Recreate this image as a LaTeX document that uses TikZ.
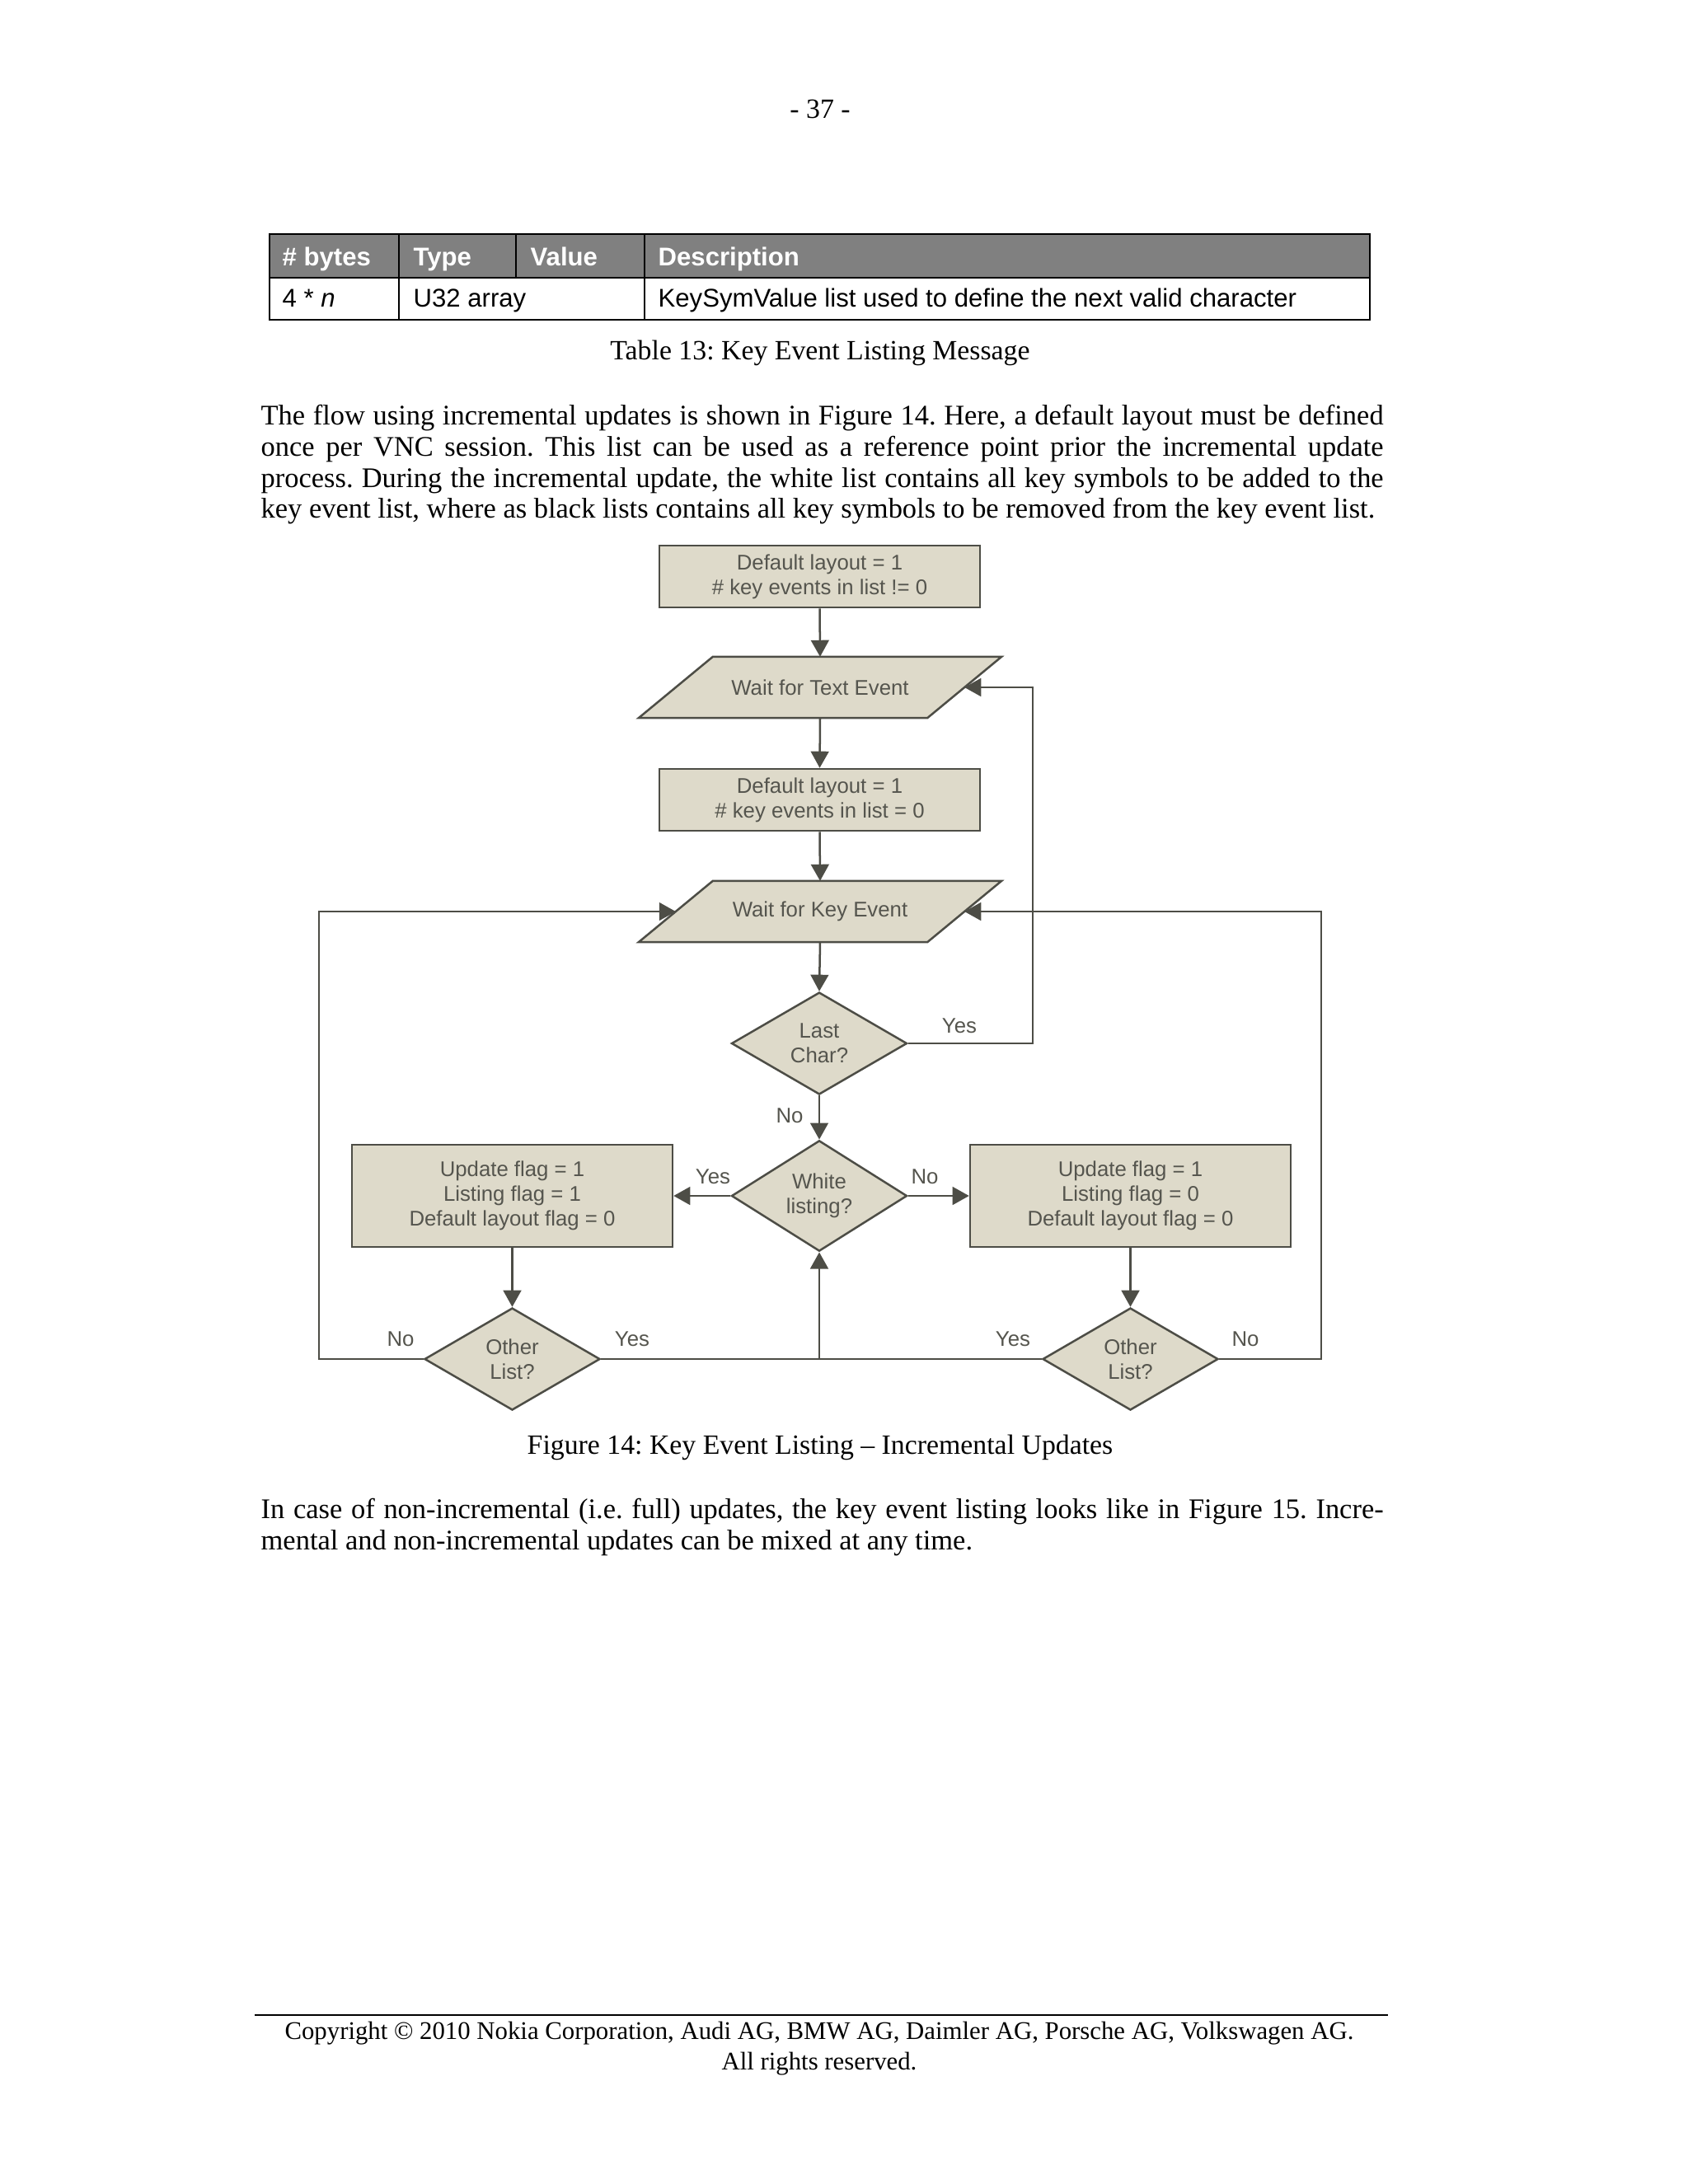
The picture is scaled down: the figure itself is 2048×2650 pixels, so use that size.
\documentclass[tikz,border=0pt]{standalone}
\usepackage{fontspec}
\setmainfont{Liberation Serif}
\newfontfamily\sansf{Liberation Sans}
\usetikzlibrary{arrows.meta,shapes.geometric,calc,backgrounds}
\frenchspacing
\definecolor{boxfill}{RGB}{222,218,202}
\definecolor{boxline}{RGB}{77,77,70}
\definecolor{boxtext}{RGB}{85,85,78}
\definecolor{hdrgray}{RGB}{128,128,128}
\def\pxu{0.29883pt}
\newlength\linew
\setlength\linew{407pt}
\newcommand{\bodyfont}{\frenchspacing\fontsize{10.3}{12}\selectfont}
\newcommand{\capfont}{\frenchspacing\fontsize{10.1}{12}\selectfont}
\newcommand{\footfont}{\frenchspacing\fontsize{9.2}{11}\selectfont}
\newcommand{\diagfont}{\sansf\fontsize{7.7}{9}\selectfont}
\newcommand{\tabfont}{\sansf\fontsize{9.3}{11}\selectfont}
\begin{document}
\begin{tikzpicture}[x=0.29883pt,y=-0.29883pt,
  bodyline/.style={font=\bodyfont, inner sep=0, anchor=base west},
  centreline/.style={font=\capfont, inner sep=0, anchor=base},
  footline/.style={font=\footfont, inner sep=0, anchor=base},
  tabhead/.style={font=\tabfont\bfseries, text=white, inner sep=0, anchor=base west},
  tabcell/.style={font=\tabfont, inner sep=0, anchor=base west},
  tabrule/.style={draw=black, line width=0.8pt},
  fbox/.style={rectangle, draw=boxline, fill=boxfill, line width=0.75pt, text=boxtext,
    font=\diagfont, align=center, inner sep=0, minimum width=389*\pxu, minimum height=75*\pxu},
  tallbox/.style={fbox, minimum height=124*\pxu},
  ddiam/.style={diamond, draw=boxline, fill=boxfill, line width=0.75pt, text=boxtext,
    font=\diagfont, align=center, inner sep=0, minimum width=213*\pxu, minimum height=124*\pxu},
  pgram/.style={rectangle, inner sep=0, minimum width=349*\pxu, minimum height=73*\pxu,
    text=boxtext, font=\diagfont, align=center},
  pgramshape/.style={draw=boxline, fill=boxfill, line width=0.75pt},
  conn/.style={draw=boxline, line width=0.75pt, -{Triangle[length=6pt,width=6.5pt]}},
  plainconn/.style={draw=boxline, line width=0.75pt},
  lbl/.style={text=boxtext, font=\diagfont, inner sep=0}]

\begin{scope}[on background layer]
\fill[white] (0,0) rectangle (2048,2650);
\end{scope}
\useasboundingbox (0,0) rectangle (2048,2650);

% page number
\node[centreline] (pagenum) at (995,143) {- 37 -};

% table
\fill[hdrgray] (327,284) rectangle (1662,337);
\draw[tabrule] (327,284) rectangle (1662,388);
\draw[tabrule] (327,337) -- (1662,337);
\draw[tabrule] (484,284) -- (484,388);
\draw[tabrule] (626,284) -- (626,337);
\draw[tabrule] (782,284) -- (782,388);
\node[tabhead] (h1) at (342,322) {\# bytes};
\node[tabhead] (h2) at (501,322) {Type};
\node[tabhead] (h3) at (643,322) {Value};
\node[tabhead] (h4) at (798,322) {Description};
\node[tabcell] (c1) at (342,372) {4 * \textit{n}};
\node[tabcell] (c2) at (501,372) {U32 array};
\node[tabcell] (c3) at (798,372) {KeySymValue list used to define the next valid character};
\node[centreline] (tabcap) at (995,436) {Table 13: Key Event Listing Message};

% paragraph 1
\node[bodyline] (l1) at (316,515) {\makebox[\linew][s]{The flow using incremental updates is shown in Figure 14. Here, a default layout must be defined}};
\node[bodyline] (l2) at (316,553) {\makebox[\linew][s]{once per VNC session. This list can be used as a reference point prior the incremental update}};
\node[bodyline] (l3) at (316,591) {\makebox[\linew][s]{process. During the incremental update, the white list contains all key symbols to be added to the}};
\node[bodyline] (l4) at (316,628) {key event list, where as black lists contains all key symbols to be removed from the key event list.};

% flowchart
\node[fbox] (b1) at (994.5,699.5) {Default layout = 1\\\# key events in list != 0};
\node[pgram] (p1) at (995,834) {Wait for Text Event};
\node[fbox] (b2) at (994.5,970.5) {Default layout = 1\\\# key events in list = 0};
\node[pgram] (p2) at (995,1106) {Wait for Key Event};
\node[ddiam] (d1) at (994,1266) {Last\\Char?};
\node[ddiam] (d2) at (994,1451) {White\\listing?};
\node[tallbox] (bl) at (621.5,1451) {Update flag = 1\\Listing flag = 1\\Default layout flag = 0};
\node[tallbox] (br) at (1371.5,1451) {Update flag = 1\\Listing flag = 0\\Default layout flag = 0};
\node[ddiam] (d3) at (621.5,1649) {Other\\List?};
\node[ddiam] (d4) at (1371.5,1649) {Other\\List?};

\begin{scope}[on background layer]
\filldraw[pgramshape] ($(p1.north west)+(45,0)$) -- ($(p1.north east)+(45,0)$) -- ($(p1.south east)+(-45,0)$) -- ($(p1.south west)+(-45,0)$) -- cycle;
\filldraw[pgramshape] ($(p2.north west)+(45,0)$) -- ($(p2.north east)+(45,0)$) -- ($(p2.south east)+(-45,0)$) -- ($(p2.south west)+(-45,0)$) -- cycle;
\end{scope}

\coordinate (rx1) at (1253,0);
\coordinate (rx2) at (1603,0);
\coordinate (lx) at (387,0);
\coordinate (j) at (d2 |- d3);

\draw[conn] (b1.south) -- (p1.north);
\draw[conn] (p1.south) -- (b2.north);
\draw[conn] (b2.south) -- (p2.north);
\draw[conn] (p2.south) -- (d1.north);
\draw[conn] (d1.south) -- (d2.north);
\draw[conn] (d1.east) -| (rx1 |- p1.east) -- (p1.east);
\draw[conn] (d2.west) -- (bl.east);
\draw[conn] (d2.east) -- (br.west);
\draw[conn] (bl.south) -- (d3.north);
\draw[conn] (br.south) -- (d4.north);
\draw[conn] (d3.west) -| (lx |- p2.west) -- (p2.west);
\draw[conn] (d4.east) -| (rx2 |- p2.east) -- (p2.east);
\draw[plainconn] (d3.east) -- (d4.west);
\draw[conn] (j) -- (d2.south);

\node[lbl] (y1) at (1164,1245) {Yes};
\node[lbl] (n1) at (958,1354) {No};
\node[lbl] (y2) at (865,1428) {Yes};
\node[lbl] (n2) at (1122,1428) {No};
\node[lbl] (n3) at (486,1625) {No};
\node[lbl] (y3) at (767,1625) {Yes};
\node[lbl] (y4) at (1229,1625) {Yes};
\node[lbl] (n4) at (1511,1625) {No};

\node[centreline] (figcap) at (995,1764) {Figure 14: Key Event Listing -- Incremental Updates};

% paragraph 2
\node[bodyline] (m1) at (316,1842) {\makebox[\linew][s]{In case of non-incremental (i.e. full) updates, the key event listing looks like in Figure 15. Incre-}};
\node[bodyline] (m2) at (316,1880) {mental and non-incremental updates can be mixed at any time.};

% footer
\draw[line width=0.6pt] (309,2445) -- (1684,2445);
\node[footline] (copy1) at (994,2474) {Copyright © 2010 Nokia Corporation, Audi AG, BMW AG, Daimler AG, Porsche AG, Volkswagen AG.};
\node[footline] (copy2) at (994,2511) {All rights reserved.};
\end{tikzpicture}
\end{document}
